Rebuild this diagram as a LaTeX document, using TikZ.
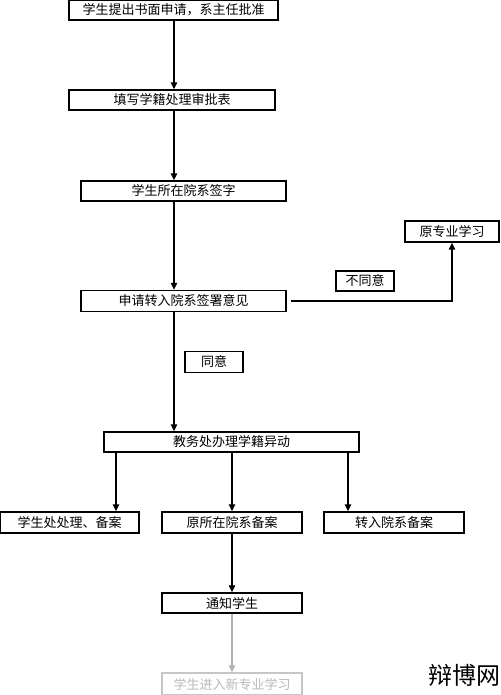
\documentclass[tikz,border=0pt]{standalone}
\usepackage{fontspec}
\newfontfamily\cjk{Noto Sans CJK SC}
\usetikzlibrary{arrows.meta}

\begin{document}
\begin{tikzpicture}
  [x=1pt,y=-1pt,font=\cjk\fontsize{13}{13}\selectfont,
   box/.style={draw,line width=1.4pt,inner sep=0pt,minimum height=20pt},
   arr/.style={-{Triangle[length=7pt,width=6.5pt]},line width=1.2pt}]
  \useasboundingbox (0,0) rectangle (500,695);

  \node [box,minimum width=209pt] (b1) at (173.5,10) {学生提出书面申请，系主任批准};
  \node [box,minimum width=206pt] (b2) at (172,100) {填写学籍处理审批表};
  \node [box,minimum width=205pt] (b3) at (183.5,191) {学生所在院系签字};
  \node [box,minimum width=205pt,minimum height=21pt] (b4) at (183.5,301) {申请转入院系签署意见};
  \node [box,minimum width=94pt,minimum height=21pt] (yuan) at (452,231.5) {原专业学习};
  \node [box,minimum width=58pt] (no) at (365,281) {不同意};
  \node [box,minimum width=58pt,minimum height=21pt] (yes) at (214,362) {同意};
  \node [box,minimum width=255pt] (b5) at (231.5,442) {教务处办理学籍异动};
  \node [box,minimum width=139pt,minimum height=21pt] (b6) at (69.5,522.5) {学生处处理、备案};
  \node [box,minimum width=140pt,minimum height=21pt] (b7) at (232,522.5) {原所在院系备案};
  \node [box,minimum width=140pt,minimum height=21pt] (b8) at (394,522.5) {转入院系备案};
  \node [box,minimum width=140pt] (b9) at (232,603) {通知学生};
  \node [box,draw=gray!45,text=gray!55,minimum width=140pt,minimum height=22pt] (b10) at (232,684) {学生进入新专业学习};
  \node [font=\cjk\fontsize{24}{24}\selectfont] (mark) at (464,675) {辩博网};

  \coordinate (spine) at (174,0);
  \coordinate (s1) at (116,0);
  \coordinate (s2) at (232,0);
  \coordinate (s3) at (348,0);

  \foreach \from/\to in {b1/b2,b2/b3,b3/b4,b4/b5}
    \draw [arr] (\from.south -| spine) -- (\to.north -| spine);
  \foreach \s/\to in {s1/b6,s2/b7,s3/b8}
    \draw [arr] (b5.south -| \s) -- (\to.north -| \s);
  \draw [arr] (b7) -- (b9);
  \draw [arr,draw=gray!60,fill=gray!60] (b9) -- (b10);
  \draw [arr,shorten <=4pt] (b4.east) -- (b4.east -| yuan) -- (yuan.south);

\end{tikzpicture}
\end{document}
